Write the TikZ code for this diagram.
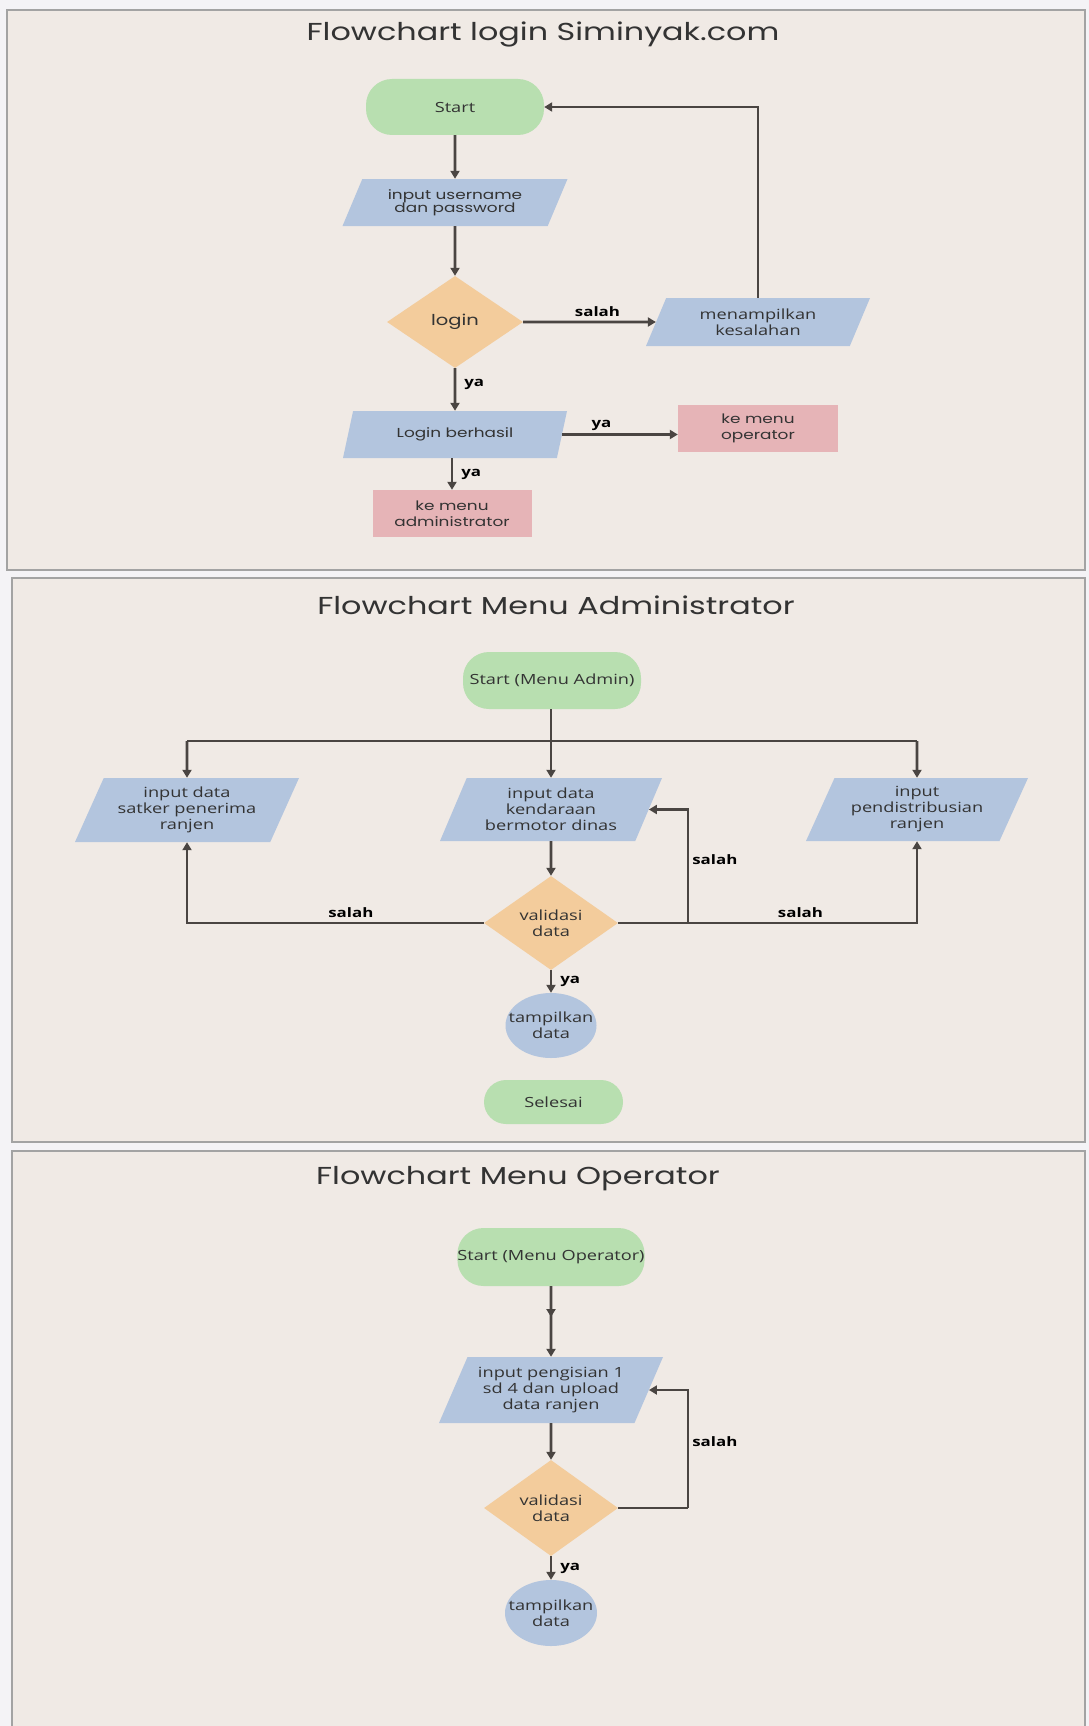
\documentclass[tikz,border=0pt]{standalone}
\usepackage{fontspec}
\setmainfont{Open Sans}
\newfontfamily\titlefont[FakeStretch=1.3]{Poppins}
\newfontfamily\popfont[FakeStretch=1.3]{Poppins}
\newfontfamily\opfont[FakeStretch=1.3]{Open Sans}
\usetikzlibrary{shapes.geometric,arrows.meta}

\definecolor{pagebg}{HTML}{F4F3F6}
\definecolor{panelbg}{HTML}{F0EAE5}
\definecolor{panelline}{HTML}{A3A3A3}
\definecolor{cgreen}{HTML}{B8DFB0}
\definecolor{cblue}{HTML}{B3C5DE}
\definecolor{corange}{HTML}{F3CC9C}
\definecolor{cpink}{HTML}{E6B4B7}
\definecolor{carrow}{HTML}{4A4542}
\definecolor{ctext}{HTML}{333333}

\tikzset{
  panel/.style={fill=panelbg, draw=panelline, line width=1.5pt},
  ttl/.style={font=\titlefont\fontsize{24.5}{28}\selectfont, text=ctext},
  popt/.style={font=\popfont\fontsize{13}{16}\selectfont, text=ctext, align=center},
  opt/.style={font=\opfont\fontsize{14}{16}\selectfont, text=ctext, align=center},
  term/.style={rectangle, fill=cgreen, rounded corners=26pt, inner sep=0pt},
  para/.style={trapezium, trapezium left angle=#1, trapezium right angle=180-#1,
    trapezium stretches body, fill=cblue, inner sep=0pt},
  dec/.style={diamond, fill=corange, inner sep=0pt},
  disp/.style={ellipse, fill=cblue, inner sep=0pt},
  box/.style={rectangle, fill=cpink, inner sep=0pt},
  ln/.style={draw=carrow, line width=2.6pt},
  arr/.style={draw=carrow, line width=2.6pt, -{Triangle[length=8pt,width=9pt]}},
  lbl/.style={font=\opfont\bfseries\fontsize{13}{15}\selectfont, text=black, inner sep=2pt},
}

\begin{document}
\begin{tikzpicture}[x=1pt,y=-1pt]
\path[use as bounding box] (0,0) rectangle (1089,1726);
\clip (0,0) rectangle (1089,1726);
\fill[pagebg] (0,0) rectangle (1089,1726);

% panels
\draw[panel] (7,10) rectangle (1085,570);
\draw[panel] (12,578) rectangle (1085,1142);
\draw[panel] (12,1151) rectangle (1085,1750);

% ---------- Panel 1 ----------
\node[ttl] (t1) at (543,34) {Flowchart login Siminyak.com};
\node[term, opt, minimum width=178, minimum height=56] (s1) at (455,107) {Start};
\node[para=53, popt, minimum width=225, minimum height=47] (inp) at (455,202.5) {input username\\[-3pt]dan password};
\node[dec, font=\popfont\fontsize{15}{18}\selectfont, text=ctext, minimum width=136, minimum height=92, aspect=1.48] (login) at (455,322) {login};
\node[para=53, opt, minimum width=224, minimum height=48] (err) at (758,322) {menampilkan\\kesalahan};
\node[para=53, popt, minimum width=224, minimum height=47] (ok) at (455,434.5) {Login berhasil};
\node[box, popt, minimum width=160, minimum height=47] (op) at (758,428.5) {ke menu\\operator};
\node[box, popt, minimum width=159, minimum height=47] (adm) at (452,513.5) {ke menu\\administrator};

\draw[arr] (s1.south) -- (inp.north);
\draw[arr] (inp.south) -- (login.north);
\draw[arr] (login.east) -- node[lbl, above=2pt, pos=0.56] {salah} (err.west);
\draw[arr] (err.north) |- (s1.east);
\draw[arr] (login.south) -- node[lbl, right=6pt, pos=0.38] {ya} (ok.north);
\draw[arr] (ok.east) -- node[lbl, above=1pt, pos=0.34] {ya} (ok.east -| op.west);
\draw[arr] (adm.north |- ok.south) -- node[lbl, right=6pt, pos=0.5] {ya} (adm.north);

% ---------- Panel 2 ----------
\node[ttl] (t2) at (556,605) {Flowchart Menu Administrator};
\node[term, opt, minimum width=178, minimum height=57] (sa) at (552,680.5) {Start (Menu Admin)};
\node[para=58, opt, minimum width=224, minimum height=64] (p1) at (187,810) {input data\\satker penerima\\ranjen};
\node[para=58, opt, minimum width=222, minimum height=63] (p2) at (551,809.5) {input data\\kendaraan\\bermotor dinas};
\node[para=58, opt, minimum width=222, minimum height=63] (p3) at (917,809.5) {input\\pendistribusian\\ranjen};
\node[dec, opt, minimum width=134, minimum height=94, aspect=1.43] (v) at (551,923) {validasi\\data};
\node[disp, minimum width=91, minimum height=65] (td) at (551,1025.5) {};
\node[opt] (tdtext) at (td.center) {tampilkan\\data};
\node[term, opt, rounded corners=22pt, minimum width=139, minimum height=44] (sel) at (553.5,1102) {Selesai};

\coordinate (busL) at (187,741);
\coordinate (busR) at (917,741);
\coordinate (br) at (688,923);
\draw[ln] (busL) -- (busR);
\draw[arr] (sa.south -| p2.north) -- (p2.north);
\draw[arr] (busL) -- (p1.north);
\draw[arr] (busR) -- (p3.north);
\draw[arr] (p2.south) -- (v.north);
\draw[arr] (v.west) -| node[lbl, above=2pt, pos=0.224] {salah} (p1.south);
\draw[arr] (v.east) -| node[lbl, above=2pt, pos=0.305] {salah} (p3.south);
\draw[arr] (br) |- node[lbl, right=1pt, pos=0.28] {salah} (p2.east);
\draw[arr] (v.south) -- node[lbl, right=6pt, pos=0.5] {ya} (td.north);

% ---------- Panel 3 ----------
\node[ttl] (t3) at (518,1179) {Flowchart Menu Operator};
\node[term, opt, minimum width=182, minimum height=58] (so) at (551,1257) {Start (Menu Operator)};
\node[para=58, opt, minimum width=224, minimum height=66] (q) at (551,1390) {input pengisian 1\\sd 4 dan upload\\data ranjen};
\node[dec, opt, minimum width=134, minimum height=96, aspect=1.4] (v2) at (551,1508) {validasi\\data};
\node[disp, minimum width=92, minimum height=66] (td2) at (551,1613) {};
\node[opt] (td2text) at (td2.center) {tampilkan\\data};

\coordinate (mid) at (551,1317);
\coordinate (br2) at (688,1508);
\draw[arr] (so.south) -- (mid);
\draw[arr] (so.south) -- (q.north);
\draw[arr] (q.south) -- (v2.north);
\draw[ln] (v2.east) -- (br2);
\draw[arr] (br2) |- node[lbl, right=1pt, pos=0.28] {salah} (q.east);
\draw[arr] (v2.south) -- node[lbl, right=6pt, pos=0.5] {ya} (td2.north);
\end{tikzpicture}
\end{document}
